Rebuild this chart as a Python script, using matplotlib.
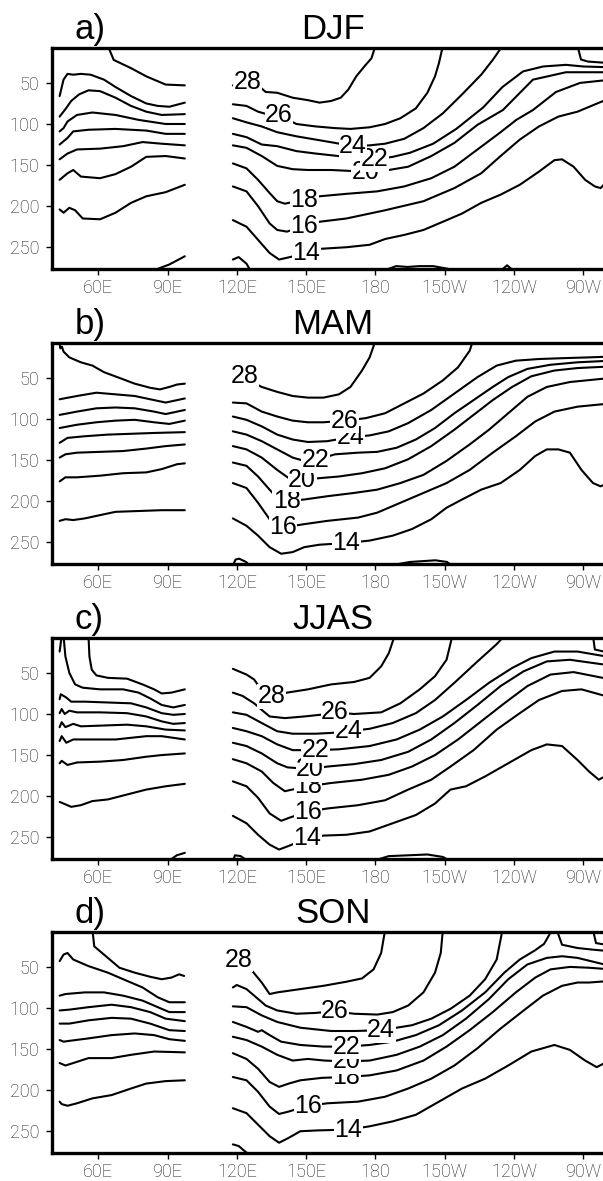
import matplotlib
matplotlib.use("Agg")
import matplotlib.pyplot as plt

# ---------------- data: isotherm depths (m) ----------------
# each isotherm (deg C) -> list of segments, each segment = [(lon_E, depth_m), ...]
LON_TICKS = [60, 90, 120, 150, 180, 210, 240, 270]
LON_LABELS = ["60E", "90E", "120E", "150E", "180", "150W", "120W", "90W"]
DEPTH_TICKS = [50, 100, 150, 200, 250]
PANELS = ["a)", "b)", "c)", "d)"]
SEASONS = ["DJF", "MAM", "JJAS", "SON"]

DJF_IO = {
    28: [[(64.2, 5), (66.7, 22), (74.2, 32), (80.8, 42), (89.2, 52), (97.5, 53)]],
    26: [[(43.3, 66), (45, 46), (46.7, 39), (49.2, 40), (52.5, 39), (56.7, 40), (62.5, 46), (67.5, 55),
          (74.2, 66), (80.8, 75), (85.8, 78), (90.8, 79), (97.5, 74)]],
    24: [[(43.3, 91), (45.8, 82), (48.3, 72), (51.7, 64), (55.8, 59), (60.8, 60), (67.5, 68), (74.2, 78),
          (80.8, 85), (87.5, 89), (97.5, 88)]],
    22: [[(43.3, 109), (45, 105), (46.7, 97), (50.8, 89), (57.5, 86), (67.5, 89), (77.5, 95), (89.2, 100), (97.5, 100)]],
    20: [[(43.3, 125), (46.7, 117), (49.2, 109), (55.8, 107), (67.5, 106), (80.8, 108), (89.2, 112), (97.5, 112)]],
    18: [[(43.3, 143), (46.7, 136), (50.8, 131), (60.8, 130), (70.8, 127), (79.2, 122), (87.5, 124), (97.5, 126)]],
    16: [[(43.3, 168), (46.7, 160), (49.2, 156), (52.5, 164), (60.8, 166), (67.5, 161), (74.2, 152), (80.8, 140),
          (89.2, 139), (97.5, 142)]],
    14: [[(43.3, 204), (45, 208), (47.5, 202), (50, 205), (53.3, 215), (60.8, 216), (67.5, 208), (74.2, 196),
          (80.8, 188), (89.2, 183), (97.5, 174)]],
    12: [[(84.2, 278), (90.8, 271), (97.5, 261)]],
}
DJF_PO = {
    28: [[(118.3, 53), (124.2, 52), (130, 55), (132.5, 61), (137.5, 62), (144.2, 68), (150.8, 71), (155.8, 74),
          (160.8, 72), (165, 68), (168.3, 58), (171.7, 42), (175.8, 28), (178.3, 20), (180, 5)]],
    26: [[(118.3, 76), (124.2, 78), (129.2, 85), (134.2, 89), (138, 89), (145.8, 100), (154.2, 103), (162.5, 105),
          (169.2, 106), (177.5, 104), (184.2, 100), (190.8, 93), (197.5, 81), (202.5, 62), (205.8, 42),
          (207.5, 26), (209.2, 5)]],
    24: [[(118.3, 93), (124.2, 98), (130.8, 103), (137.5, 110), (145.8, 115), (154.2, 119), (162.5, 123),
          (170, 127), (177.5, 126), (184.2, 124), (192.5, 118), (200.8, 105), (209.2, 87), (217.5, 64),
          (225.8, 40), (230.8, 22), (235, 5)],
         [(267.5, 5), (269, 21.5), (272, 24), (282, 26)]],
    22: [[(118.3, 112), (124.2, 116), (130.8, 125), (137.5, 127), (145.8, 133), (154.2, 136), (164, 139),
          (179.5, 143), (187.5, 140), (195, 135), (205, 124), (215, 106), (226.6, 80), (235, 55), (243.9, 36),
          (252.6, 30), (262.5, 28), (269.9, 30), (282, 31)]],
    20: [[(118.3, 126), (124.2, 129), (130.8, 139), (137.5, 151), (144.2, 155), (150.8, 156), (160.8, 156),
          (175.8, 158), (185.8, 156), (194.2, 152), (204.2, 139), (214.2, 123), (224.2, 101), (235.2, 83),
          (248.2, 46), (262.5, 37), (282, 37)]],
    18: [[(118.3, 148), (124.2, 154), (129.2, 168), (134.2, 184), (137.5, 194), (140.8, 197), (149.2, 192),
          (155.8, 188), (167.5, 185), (180.8, 182), (192.5, 176), (204.2, 166), (214.2, 152), (224.2, 131),
          (234.2, 110), (241, 95), (248.2, 83), (258.2, 61), (268.6, 50), (282, 46)]],
    16: [[(118.3, 176), (124.2, 182), (129.2, 200), (134.2, 221), (137.5, 229), (141.7, 231), (149.2, 224),
          (155.8, 219), (167.5, 215), (184.2, 205), (200.8, 194), (214.2, 178), (225.8, 160), (234.2, 139),
          (242.5, 119), (250.8, 103), (259.2, 91), (267.5, 85), (282, 68)]],
    14: [[(118.3, 217), (124.2, 225), (129.2, 241), (134.2, 257), (138.3, 265), (143, 262), (150, 257),
          (155.8, 252), (167.5, 250), (177.5, 247), (184.2, 240), (192.5, 235), (200.8, 229), (209.2, 219),
          (217.5, 209), (225.8, 196), (234.2, 186), (242.5, 174), (250.8, 158), (257.5, 144), (260.8, 143),
          (265.8, 152), (270.8, 168), (275, 176), (277.5, 178), (282, 165)]],
    12: [[(118.3, 265), (120.8, 262), (124.2, 270), (125.8, 278)],
         [(184, 278), (189, 273), (194, 274), (199, 273), (205, 273), (211, 276), (214, 278)],
         [(234.5, 278), (237, 272), (239.5, 278)]],
}
DJF_LABELS = [(14, 150, 257), (16, 149.2, 224), (18, 149.2, 192), (20, 175.8, 158), (22, 179.5, 143),
              (24, 170.3, 127), (26, 138.3, 89), (28, 124.5, 49)]

MAM_IO = {
    28: [[(43.3, 8), (43.6, 14), (44.3, 12), (45, 18), (47.5, 25), (52.5, 31), (57.5, 35), (62.5, 43), (69.2, 50),
          (75.8, 57), (82.5, 62), (86.7, 64), (90.8, 61), (94.2, 58), (97.5, 57)]],
    26: [[(43.3, 76), (50.8, 72), (59.2, 68), (67.5, 70), (75.8, 72), (84.2, 77), (89.2, 80), (94.2, 77), (97.5, 75)]],
    24: [[(43.3, 95), (50.8, 91), (59.2, 87), (67.5, 86), (75.8, 87), (84.2, 91), (89.2, 94), (94.2, 91), (97.5, 89)]],
    22: [[(43.3, 111), (50.8, 107), (59.2, 104), (67.5, 102), (75.8, 101), (84.2, 104), (90.8, 106), (97.5, 102)]],
    20: [[(43.3, 129), (46.7, 123), (54.2, 121), (64.2, 119), (74.2, 118), (84.2, 117), (97.5, 116)]],
    18: [[(43.3, 147), (45.8, 143), (50.8, 141), (60.8, 140), (70.8, 139), (80.8, 136), (89.2, 133), (97.5, 131)]],
    16: [[(43.3, 176), (45.8, 171), (50.8, 171), (60.8, 169), (70.8, 166), (80.8, 165), (87.5, 161), (94.2, 155),
          (97.5, 154)]],
    14: [[(43.3, 224), (45.8, 222), (49.2, 223), (54.2, 221), (60.8, 217), (67.5, 213), (77.5, 212), (87.5, 211),
          (97.5, 211)]],
}
MAM_PO = {
    28: [[(118.3, 52), (124, 51), (130.8, 61), (137.5, 67), (144.2, 72), (150.8, 74), (157.5, 74), (164.2, 70),
          (169.2, 61), (174.2, 41), (177.5, 25), (180, 5)]],
    26: [[(118.3, 80), (124.2, 81), (130.8, 91), (137.5, 97), (144.2, 102), (150.8, 104), (157.5, 104),
          (166.7, 102), (175.8, 99), (184.2, 93), (192.5, 81), (200.8, 69), (209.2, 53), (215.8, 37),
          (220.8, 17), (222.2, 5)]],
    24: [[(118.3, 97), (124.2, 101), (130.8, 109), (137.5, 119), (144.2, 125), (150.8, 128), (159.2, 127),
          (169.2, 122), (177.5, 120), (185.8, 115), (194.2, 105), (204.2, 89), (214.2, 69), (224.2, 49),
          (232.5, 35), (240.8, 29), (250.8, 27), (260.8, 26), (272.5, 25), (282, 24)]],
    22: [[(118.3, 115), (124.2, 119), (130.8, 127), (137.5, 137), (144.2, 147), (149.2, 151), (154.2, 150),
          (162.5, 143), (172.5, 141), (180.8, 140), (189.2, 135), (197.5, 125), (205.8, 111), (214.2, 93),
          (222.5, 77), (230.8, 61), (237.5, 49), (245.8, 39), (255.8, 34), (267.5, 31), (282, 29)]],
    20: [[(118.3, 133), (124.2, 137), (130.8, 147), (137.5, 162), (142.5, 172), (148.3, 174), (155.8, 172),
          (164.2, 170), (174.2, 166), (184.2, 160), (194.2, 149), (204.2, 133), (214.2, 113), (222.5, 95),
          (230.8, 77), (239.2, 61), (247.5, 48), (257.5, 41), (267.5, 38), (282, 36)]],
    18: [[(118.3, 153), (124.2, 157), (129.2, 170), (134.2, 186), (137.5, 196), (141.7, 200), (149.2, 198),
          (159.2, 194), (170.8, 190), (180.8, 186), (190.8, 178), (200.8, 168), (210.8, 151), (220.8, 131),
          (229.2, 113), (237.5, 93), (245.8, 73), (254.2, 61), (264.2, 55), (282, 50)]],
    16: [[(118.3, 178), (124.2, 184), (129.2, 202), (134.2, 222), (136.7, 230), (140, 232), (149.2, 228),
          (159.2, 224), (172.5, 220), (180.8, 214), (190.8, 202), (200.8, 190), (210.8, 178), (220.8, 162),
          (230.8, 141), (240.8, 121), (249.2, 103), (257.5, 91), (267.5, 85), (282, 81)]],
    14: [[(118.3, 221), (124.2, 230), (129.2, 242), (134.2, 256), (139.2, 264), (144.2, 262), (149.2, 256),
          (155.8, 253), (167.5, 251), (177.5, 248), (187.5, 242), (195.8, 234), (204.2, 222), (210.8, 208),
          (217.5, 198), (225.8, 186), (234.2, 178), (242.5, 162), (249.2, 145), (254.2, 137), (259.2, 137),
          (264.2, 141), (269.2, 162), (274.2, 178), (277.5, 182), (282, 176)]],
    12: [[(118.3, 278), (119.5, 271), (121, 270), (124, 274), (125.5, 278)],
         [(187, 278), (195, 274), (206, 272), (211, 274), (213, 278)]],
}
MAM_LABELS = [(14, 167.5, 251), (16, 140, 232), (18, 141.7, 200), (20, 148.3, 174), (22, 154.2, 150),
              (24, 169.2, 122), (26, 166.7, 102), (28, 123.3, 48)]

JJAS_IO = {
    28: [[(55.8, 5), (56.2, 30), (57.2, 46), (59.2, 53), (64.2, 56), (72.5, 57), (79.2, 64), (84.2, 70), (87.5, 75),
          (91.7, 74), (97.5, 70)],
         [(43.3, 24), (44.2, 5)]],
    26: [[(45, 5), (45.8, 30), (47.5, 50), (50, 64), (53.3, 68), (60.8, 70), (70.8, 70), (77.5, 74), (82.5, 81),
          (87.5, 89), (92.5, 92), (97.5, 89)]],
    24: [[(43.3, 82), (43.8, 76), (45, 78), (46.2, 80), (48.3, 85), (54.2, 85), (64.2, 86), (74.2, 87), (80.8, 92),
          (87.5, 99), (92.5, 101), (97.5, 100)]],
    22: [[(43.3, 99), (44.2, 94), (45.5, 100), (47.5, 96), (50.8, 98), (60.8, 98), (72.5, 99), (80.8, 103),
          (87.5, 109), (92.5, 112), (97.5, 111)]],
    20: [[(43.3, 116), (44.2, 110), (45.8, 116), (49.2, 112), (52.5, 115), (62.5, 114), (72.5, 113), (80.8, 115),
          (89.2, 119), (97.5, 120)]],
    18: [[(43.3, 133), (44.2, 127), (46.2, 135), (49.2, 131), (55.8, 131), (67.5, 131), (80.8, 127), (87.5, 127),
          (97.5, 131)]],
    16: [[(43.3, 160), (44.2, 157), (46.7, 162), (50.8, 159), (60.8, 158), (70.8, 156), (80.8, 152), (87.5, 150),
          (97.5, 148)]],
    14: [[(43.3, 207), (45, 209), (48.3, 213), (52.5, 211), (57.5, 206), (64.2, 204), (72.5, 198), (80.8, 192),
          (89.2, 188), (97.5, 185)]],
    12: [[(91, 278), (94, 272), (97.5, 269)]],
}
JJAS_PO = {
    28: [[(118.3, 45), (120.8, 48), (124.2, 52), (127.5, 58), (129.5, 66), (135, 78), (141.7, 74), (150.8, 70),
          (160.8, 64), (170.8, 61), (177.5, 56), (182.5, 42), (185.8, 26), (188.3, 5)]],
    26: [[(118.3, 74), (122.5, 78), (127.5, 87), (130.8, 95), (134.2, 103), (140.8, 105), (149.2, 103), (156, 101),
          (162.5, 98), (170.8, 100), (182.5, 98), (190.8, 87), (199.2, 70), (205.8, 54), (210.8, 34), (213.3, 5)]],
    24: [[(118.3, 98), (124.2, 101), (130.8, 111), (137.5, 121), (144.2, 124), (154.2, 124), (161, 123),
          (168.3, 121), (177.5, 118), (187.5, 111), (197.5, 99), (205.8, 83), (214.2, 62), (224.2, 36),
          (232.5, 15), (235.8, 5)],
         [(274.2, 5), (275, 21.5), (282, 26)]],
    22: [[(118.3, 117), (124.2, 121), (130.8, 127), (137.5, 137), (144.2, 144), (154.2, 144), (164.2, 143),
          (177.5, 139), (189.2, 131), (199.2, 119), (209.2, 103), (219.2, 83), (229.2, 62), (239.2, 44),
          (247.5, 32), (257.5, 24), (267.5, 24), (282, 31)]],
    20: [[(118.3, 135), (124.2, 139), (130.8, 148), (137.5, 160), (142, 165), (151.7, 167), (159.2, 164),
          (170.8, 161), (182.5, 156), (194.2, 146), (204.2, 131), (214.2, 111), (224.2, 89), (234.2, 66),
          (244.2, 48), (254.2, 36), (264.2, 34), (282, 41)]],
    18: [[(118.3, 155), (124.2, 160), (130.8, 170), (135.8, 184), (140.8, 194), (144, 192), (150.8, 188),
          (160.8, 184), (174.2, 180), (185.8, 174), (195.8, 164), (205.8, 150), (215.8, 131), (225.8, 109),
          (235.8, 87), (245.8, 66), (255.8, 52), (265.8, 49), (282, 58)]],
    16: [[(118.3, 182), (124.2, 188), (129.2, 202), (134.2, 221), (139.2, 230), (143, 226), (150.8, 219),
          (159.2, 215), (172.5, 211), (184.2, 205), (194.2, 192), (204.2, 180), (212.5, 164), (222.5, 144),
          (232.5, 119), (242.5, 99), (250.8, 83), (260.8, 72), (269.2, 70), (282, 80)]],
    14: [[(118.3, 224), (124.2, 233), (129.2, 247), (134.2, 259), (138.3, 265), (143, 260), (150.5, 251),
          (157.5, 248), (167.5, 247), (177.5, 243), (187.5, 233), (197.5, 223), (205.8, 209), (212.5, 192),
          (219.2, 188), (227.5, 176), (237.5, 160), (247.5, 144), (254.2, 137), (260.8, 139), (267.5, 156),
          (272.5, 170), (276.7, 180), (282, 172)]],
    12: [[(118.5, 278), (119.2, 272), (121.7, 273), (124.2, 278)],
         [(180, 278), (185.8, 273), (194.2, 272), (202.5, 271), (209.2, 274), (211.7, 278)]],
}
JJAS_LABELS = [(14, 150.5, 251), (16, 150.8, 219), (18, 150.8, 188), (20, 151.7, 167), (22, 154.2, 144),
               (24, 168.3, 121), (26, 162.5, 98), (28, 135, 78.5)]

SON_IO = {
    28: [[(57.5, 5), (58.3, 25), (62.5, 35), (69.2, 51), (75.8, 57), (82.5, 62), (87.5, 65), (91.7, 63), (95, 59),
          (97.2, 61)]],
    26: [[(43.3, 43), (45, 35), (46.7, 33), (49.2, 41), (55.8, 49), (64.2, 57), (72.5, 67), (79.2, 75), (85.8, 87),
          (90.8, 93), (97.5, 93)]],
    24: [[(43.3, 85), (45.8, 83), (54.2, 81), (62.5, 81), (70.8, 85), (79.2, 91), (85.8, 99), (90.8, 105),
          (97.5, 105)]],
    22: [[(43.3, 103), (47.5, 102), (55.8, 99), (65.8, 96), (74.2, 99), (82.5, 105), (89.2, 113), (97.5, 116)]],
    20: [[(43.3, 119), (47.5, 119), (55.8, 115), (65.8, 112), (74.2, 113), (82.5, 119), (90.8, 127), (97.5, 128)]],
    18: [[(43.3, 139), (45, 141), (47.5, 140), (55.8, 137), (65.8, 133), (75.8, 131), (84.2, 133), (90.8, 138),
          (97.5, 140)]],
    16: [[(43.3, 167), (45.8, 170), (49.2, 167), (55.8, 161), (65.8, 161), (74.2, 157), (84.2, 153), (97.5, 154)]],
    14: [[(43.3, 214), (44.2, 217), (46.7, 219), (50.8, 216), (57.5, 210), (65.8, 206), (74.2, 198), (80.8, 192),
          (89.2, 189), (97.5, 188)]],
}
SON_PO = {
    28: [[(121, 42), (126.7, 55), (130.8, 69), (134.2, 83), (137.5, 81), (147.5, 77), (157.5, 73), (167.5, 68),
          (174.2, 64), (179.2, 53), (182.5, 33), (184.2, 5)]],
    26: [[(118.3, 75), (120, 72), (124.2, 77), (129.2, 89), (132.5, 97), (137.5, 103), (145.8, 107), (154, 106),
          (162.5, 104), (170.8, 107), (180.8, 108), (187.5, 105), (194.2, 97), (200.8, 81), (205.8, 57),
          (208.3, 33), (209.2, 5)]],
    24: [[(118.3, 98), (124.2, 99), (130.8, 109), (137.5, 117), (147.5, 124), (160.8, 128), (171, 128),
          (182.5, 127), (195.8, 121), (204.2, 113), (212.5, 101), (220.8, 85), (227.5, 65), (232.5, 41), (235, 5)],
         [(274.2, 5), (275.5, 21), (282, 24)]],
    22: [[(118.3, 117), (124.2, 123), (129.2, 129), (130.8, 127), (134.2, 133), (139.2, 141), (147.5, 145),
          (157.5, 147), (167.5, 147), (177.5, 145), (187.5, 141), (197.5, 133), (207.5, 121), (217.5, 103),
          (227.5, 81), (235.8, 57), (242.5, 41), (249, 30), (253, 22), (256.5, 5)],
         [(258.5, 5), (260.8, 23), (267.5, 27), (274.2, 29), (282, 31)]],
    20: [[(118.3, 135), (124.2, 139), (130.8, 147), (137.5, 157), (144.2, 164), (150.8, 162), (158, 164),
          (167.5, 165), (177.5, 164), (189.2, 157), (199.2, 147), (209.2, 133), (219.2, 113), (229.2, 89),
          (237.5, 65), (245.8, 47), (254.2, 39), (260.8, 37), (267.5, 39), (282, 49)]],
    18: [[(118.3, 155), (124.2, 162), (129.2, 174), (134.2, 190), (138.3, 196), (142.5, 192), (147.5, 188),
          (157, 185), (167.5, 184), (177.5, 182), (189.2, 176), (200.8, 164), (210.8, 147), (220.8, 127),
          (230.8, 105), (240.8, 81), (249.2, 63), (255.8, 53), (264.2, 50), (272.5, 51), (282, 53)]],
    16: [[(118.3, 184), (124.2, 188), (129.2, 202), (134.2, 220), (138.3, 229), (142.5, 226), (150.8, 219),
          (159.2, 216), (172.5, 214), (184.2, 208), (194.2, 198), (204.2, 186), (214.2, 170), (224.2, 149),
          (234.2, 125), (244.2, 103), (252.5, 85), (260.8, 73), (267.5, 69), (272.5, 69), (282, 67)]],
    14: [[(118.3, 222), (124.2, 228), (129.2, 242), (134.2, 256), (138.3, 264), (142.5, 258), (147.5, 250),
          (155, 249), (168.3, 248), (177.5, 244), (187.5, 238), (197.5, 230), (207.5, 214), (217.5, 198),
          (227.5, 186), (237.5, 170), (247.5, 153), (257.5, 145), (264.2, 151), (270.8, 164), (275.8, 172),
          (282, 163)]],
    12: [[(118.3, 266), (120.8, 268), (124.2, 276), (125, 278)]],
}
SON_LABELS = [(14, 168.3, 248), (16, 150.8, 219), (18, 167.5, 184), (20, 167.5, 165), (22, 167.5, 147),
              (24, 182.5, 127), (26, 162.5, 104), (28, 120.8, 41.5)]

PANEL_DATA = [(DJF_IO, DJF_PO, DJF_LABELS), (MAM_IO, MAM_PO, MAM_LABELS),
              (JJAS_IO, JJAS_PO, JJAS_LABELS), (SON_IO, SON_PO, SON_LABELS)]

# ---------------- layout ----------------
W, H = 603, 1181
TOPS = [48, 343, 638, 932]
AX_H = 221
AX_L = 52
X0, X1 = 40, 282
Y_TOP, Y_BOT = 7.5, 276.5
PX_PER_DEG = 2.31

TICK_FONT = dict(family=["Roboto", "DejaVu Sans"], weight="light", size=13, color="#202020")
TITLE_FONT = dict(family=["Liberation Sans", "DejaVu Sans"], size=25)
LABEL_FONT = dict(family=["Liberation Sans", "DejaVu Sans"], size=18)

fig = plt.figure(figsize=(W / 100, H / 100), dpi=100)
fig.patch.set_facecolor("white")

for i, (io, po, labels) in enumerate(PANEL_DATA):
    top = TOPS[i]
    width_px = (X1 - X0) * PX_PER_DEG
    ax = fig.add_axes([AX_L / W, 1 - (top + AX_H) / H, width_px / W, AX_H / H])
    ax.set_xlim(X0, X1)
    ax.set_ylim(Y_BOT, Y_TOP)

    for basin in (io, po):
        for level in sorted(basin):
            for seg in basin[level]:
                lons = [p[0] for p in seg]
                deps = [p[1] for p in seg]
                ax.plot(lons, deps, color="black", lw=1.5, solid_joinstyle="round",
                        solid_capstyle="round", zorder=2)

    for k, (lev, lon, dep) in enumerate(labels):
        ax.text(lon, dep, str(lev), ha="center", va="center", zorder=3 + k,
                bbox=dict(facecolor="white", edgecolor="none", pad=0.3), **LABEL_FONT)

    ax.set_xticks(LON_TICKS)
    ax.set_xticklabels(LON_LABELS, **TICK_FONT)
    ax.set_yticks(DEPTH_TICKS)
    ax.set_yticklabels([str(d) for d in DEPTH_TICKS], **TICK_FONT)
    ax.tick_params(direction="out", length=4, width=1, color="black")
    ax.tick_params(axis="y", pad=5)
    ax.tick_params(axis="x", pad=3)
    for sp in ax.spines.values():
        sp.set_linewidth(2.4)
        sp.set_zorder(10)

    fig.text(75 / W, 1 - (top - 9) / H, PANELS[i], ha="left", va="baseline", **TITLE_FONT)
    fig.text(333 / W, 1 - (top - 9) / H, SEASONS[i], ha="center", va="baseline", **TITLE_FONT)

fig.savefig("out.png", dpi=100, facecolor="white")
